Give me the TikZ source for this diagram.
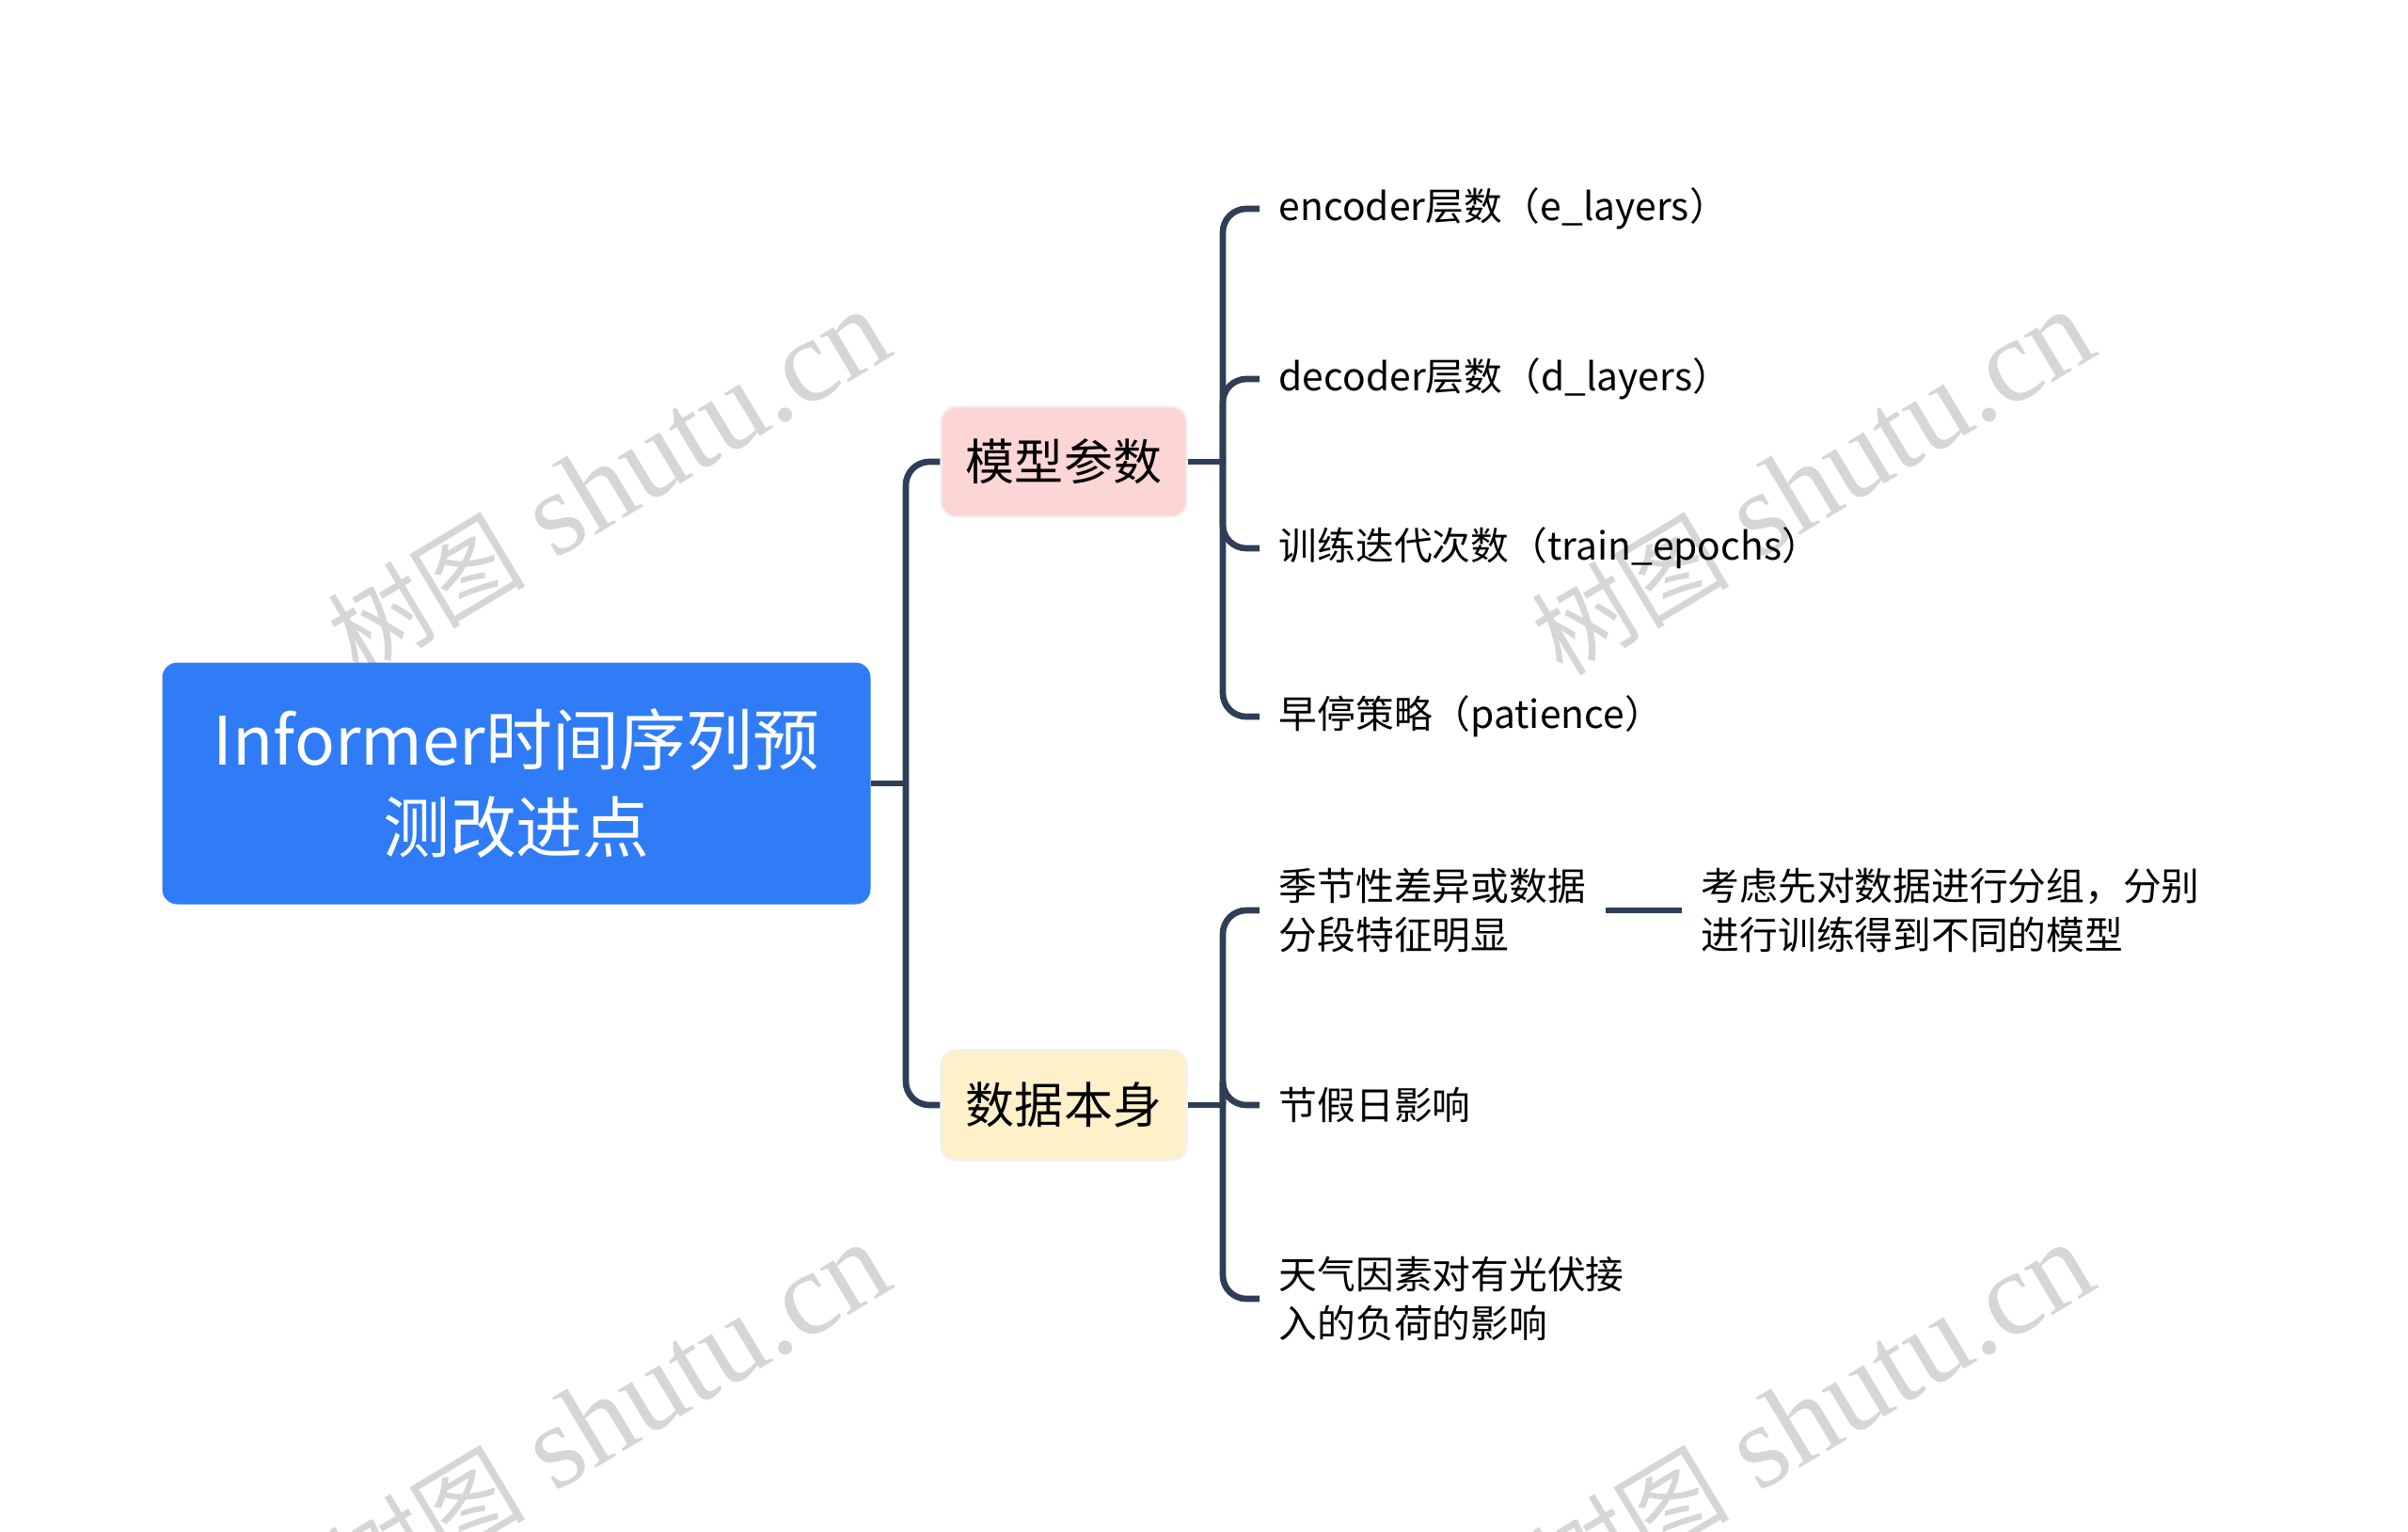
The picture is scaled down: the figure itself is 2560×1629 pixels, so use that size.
\documentclass[tikz,border=0pt]{standalone}
\usepackage{fontspec}
\setmainfont{Noto Sans CJK SC}
\newfontfamily\wmfont{Liberation Serif}
\usepackage{tikz}
\usetikzlibrary{positioning}
\definecolor{bleu}{HTML}{2F7CF6}
\definecolor{rose}{HTML}{FCD6D5}
\definecolor{jaune}{HTML}{FEF1CA}
\definecolor{trait}{HTML}{2E3E56}
\definecolor{filig}{HTML}{D6D6D6}

\begin{document}
\begin{tikzpicture}[x=0.1mm,y=-0.1mm,
	lien/.style={line width=1.9pt,trait,rounded corners=2.5mm},
	feuille/.style={anchor=west,inner xsep=2mm,align=left,font=\fontsize{11.6}{14.8}\selectfont},
	branche/.style={draw=black!6,line width=0.6pt,rounded corners=1.6mm,minimum width=2.61cm,minimum height=1.17cm,font=\fontsize{14.8}{18}\selectfont},
	filigrane/.style={rotate=31,text=filig,font=\fontsize{30}{30}\selectfont}]
\useasboundingbox (0,0) rectangle (2560,1629);
	%filigrane
	\foreach \x/\y in {647/514,1927/514,647/1506,1927/1506}
		\node[filigrane] (W\x\y) at (\x,\y) {树图\hspace{0.3em}{\wmfont\fontsize{36}{36}\selectfont shutu.cn}};

	%racine
	\node[fill=bleu,rounded corners=1.6mm,minimum width=7.53cm,minimum height=2.57cm,text=white,align=center,font=\fontsize{20.2}{26.5}\selectfont] (R) at (549,833) {Informer时间序列预\\测改进点};
	\coordinate (J) at (963,833);
	\draw[lien] (R.east) -- (J);

	%branches
	\node[branche,fill=rose] (M) at (1131,491) {模型参数};
	\node[branche,fill=jaune] (D) at (1131,1175) {数据本身};
	\draw[lien] (J) |- (M.west);
	\draw[lien] (J) |- (D.west);

	%sous-branches du haut
	\coordinate (JM) at (1300,491);
	\draw[lien] (M.east) -- (JM);
	\node[feuille] (M1) at (1339,222) {encoder层数（e\_layers）};
	\node[feuille] (M2) at (1339,403) {decoder层数（d\_layers）};
	\node[feuille] (M3) at (1339,583) {训练迭代次数（train\_epochs）};
	\node[feuille] (M4) at (1339,762) {早停策略（patience）};
	\foreach \n in {M1,M2,M3,M4}
		\draw[lien] (JM) |- (\n.west);

	%sous-branches du bas
	\coordinate (JD) at (1300,1175);
	\draw[lien] (D.east) -- (JD);
	\node[feuille] (D1) at (1339,968) {季节性差异或数据\\分段特征明显};
	\node[feuille] (D2) at (1339,1175) {节假日影响};
	\node[feuille] (D3) at (1339,1381) {天气因素对有光伏接\\入的负荷的影响};
	\foreach \n in {D1,D2,D3}
		\draw[lien] (JD) |- (\n.west);
	\node[feuille] (D1a) at (1788,968) {考虑先对数据进行分组，分别\\进行训练得到不同的模型};
	\draw[lien] (D1.east) -- (D1a.west);
\end{tikzpicture}
\end{document}
